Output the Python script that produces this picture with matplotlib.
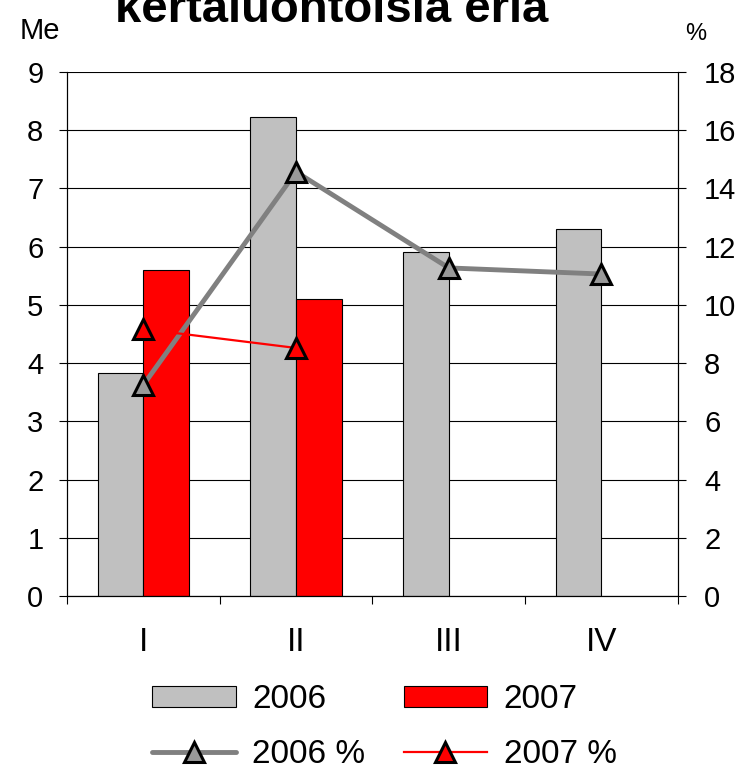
import numpy as np
import matplotlib.pyplot as plt
from matplotlib.lines import Line2D
from matplotlib.patches import Patch

plt.rcParams['font.family'] = ['Liberation Sans', 'DejaVu Sans']

quarters = ['I', 'II', 'III', 'IV']
me_2006 = [3.83, 8.23, 5.91, 6.31]
me_2007 = [5.60, 5.10]
pct_2006 = [7.25, 14.57, 11.27, 11.06]
pct_2007 = [9.17, 8.52]

fig = plt.figure(figsize=(7.54, 7.71), dpi=100)
ax = fig.add_axes([0.0889, 0.227, 0.810, 0.6796])
x = np.arange(len(quarters))
w = 0.3

ax.bar(x - w / 2, me_2006, w, color='#C0C0C0', edgecolor='black', linewidth=0.8, zorder=2)
ax.bar(x[:len(me_2007)] + w / 2, me_2007, w, color='#FF0000', edgecolor='black', linewidth=0.8, zorder=2)

ax.set_xlim(-0.5, 3.5)
ax.set_ylim(0, 9)
ax.set_yticks(range(0, 10))
ax.grid(axis='y', color='black', linewidth=0.8, zorder=0)
ax.set_axisbelow(True)
ax.set_xticks(x)
ax.set_xticklabels(quarters)
ax.set_xticks(np.arange(-0.5, 4, 1), minor=True)
ax.tick_params(axis='x', which='major', length=0, pad=22, labelsize=24)
ax.tick_params(axis='x', which='minor', length=6, width=0.8, direction='out')
ax.tick_params(axis='y', length=6, width=0.8, pad=11, labelsize=21)
ax.spines['top'].set_visible(False)
for s in ['left', 'right', 'bottom']:
    ax.spines[s].set_linewidth(0.8)

ax2 = ax.twinx()
ax2.set_ylim(0, 18)
ax2.set_yticks(range(0, 19, 2))
ax2.tick_params(axis='y', length=6, width=0.8, pad=13, labelsize=21)
ax2.spines['top'].set_visible(False)
ax2.plot(x, pct_2006, color='#808080', linewidth=3.5, marker='^', markersize=15,
         markerfacecolor='#999999', markeredgecolor='black', markeredgewidth=2.2, zorder=3)
ax2.plot(x[:len(pct_2007)], pct_2007, color='#FF0000', linewidth=1.6, marker='^', markersize=15,
         markerfacecolor='#FF0000', markeredgecolor='black', markeredgewidth=2.2, zorder=4)

fig.text(0.026, 0.95, 'Me', fontsize=21, ha='left', va='baseline')
fig.text(0.908, 0.948, '%', fontsize=17, ha='left', va='baseline')
fig.text(0.44, 0.972, 'kertaluontoisia eriä', fontsize=34, fontweight='bold', ha='center', va='baseline')

handles = [
    Patch(facecolor='#C0C0C0', edgecolor='black', linewidth=0.8),
    Line2D([], [], color='#808080', linewidth=3.5, marker='^', markersize=15,
           markerfacecolor='#999999', markeredgecolor='black', markeredgewidth=2.2,
           solid_capstyle='round'),
    Patch(facecolor='#FF0000', edgecolor='black', linewidth=0.8),
    Line2D([], [], color='#FF0000', linewidth=1.6, marker='^', markersize=15,
           markerfacecolor='#FF0000', markeredgecolor='black', markeredgewidth=2.2),
]
labels = ['2006', '2006 %', '2007', '2007 %']
fig.legend(handles, labels, ncol=2, loc='center', bbox_to_anchor=(0.51, 0.057),
           frameon=False, fontsize=24, handlelength=2.5, handleheight=0.6,
           columnspacing=1.15, labelspacing=0.7, handletextpad=0.5)

fig.savefig('out.png', dpi=100)
